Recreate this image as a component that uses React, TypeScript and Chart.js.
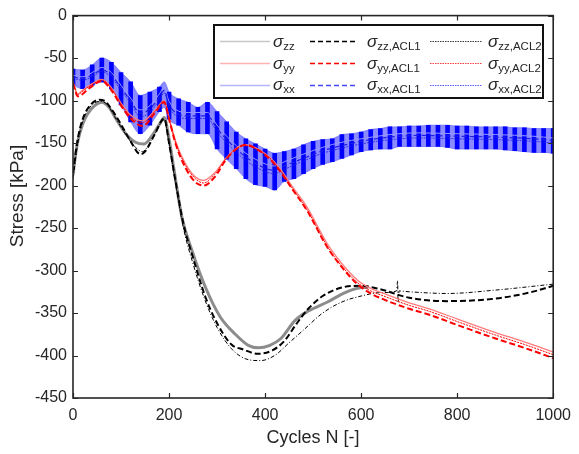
import React, { useEffect, useRef } from "react";
import { Chart, registerables } from "chart.js";

Chart.register(...registerables);

const FONT = "'Liberation Sans', Arial, Helvetica, sans-serif";
const INK = "#262626";

const xTickValues = [0, 200, 400, 600, 800, 1000];
const yTickValues = [0, -50, -100, -150, -200, -250, -300, -350, -400, -450];
const xTitle = "Cycles N [-]";
const yTitle = "Stress [kPa]";

// sigma_zz (gray, solid)
const zzX = [0, 5, 10, 20, 30, 45, 60, 75, 90, 110, 130, 148, 165, 180, 190, 200, 210, 227, 248, 276, 307, 338, 365, 386, 410, 433, 462, 489, 530, 570, 605, 615];
const zzY = [-188, -165, -148, -128, -116, -106, -102, -108, -122, -139, -149, -151, -141, -128, -120, -145, -180, -238, -277, -320, -355, -375, -388, -391, -388, -380, -359, -348, -337, -325, -320, -320];
// sigma_zz ACL1 (black dashed)
const zz1X = [0, 10, 20, 35, 55, 65, 80, 100, 120, 140, 150, 170, 190, 200, 212, 230, 250, 275, 300, 330, 355, 385, 415, 440, 465, 490, 520, 560, 600, 640, 700, 780, 880, 950, 1000];
const zz1Y = [-185, -145, -122, -106, -99, -100, -110, -128, -148, -163, -160, -140, -121, -150, -190, -245, -285, -330, -362, -387, -393, -398, -394, -383, -363, -345, -330, -320, -318, -322, -332, -336, -333, -326, -318];
// sigma_zz ACL2 (black dash-dot)
const zz2X = [0, 10, 20, 35, 55, 70, 90, 110, 130, 145, 165, 190, 200, 212, 230, 250, 275, 300, 330, 360, 390, 420, 450, 480, 520, 560, 600, 640, 674, 676, 677, 679, 700, 780, 880, 1000];
const zz2Y = [-192, -150, -125, -108, -101, -104, -122, -140, -155, -160, -145, -123, -150, -192, -250, -292, -335, -367, -392, -404, -406, -400, -385, -370, -350, -337, -330, -326, -324, -312, -338, -324, -325, -327, -323, -316];

// sigma_yy (light red, solid)
const yyX = [0, 10, 20, 35, 60, 80, 100, 120, 145, 170, 190, 200, 215, 235, 255, 272, 295, 318, 340, 358, 385, 412, 435, 454, 488, 530, 560, 592, 620, 647, 700, 742, 800, 880, 940, 1000];
const yyY = [-78, -92, -88, -82, -75, -85, -103, -117, -124, -112, -100, -120, -150, -175, -190, -194, -185, -168, -156, -152, -157, -168, -183, -199, -226, -269, -292, -311, -321, -327, -338, -345, -357, -373, -384, -396];
// sigma_yy ACL1 (red dashed)
const yy1X = [0, 10, 35, 60, 80, 100, 120, 145, 170, 190, 200, 215, 235, 255, 272, 295, 318, 340, 360, 385, 412, 435, 454, 488, 530, 560, 592, 620, 647, 700, 742, 800, 880, 940, 1000];
const yy1Y = [-80, -95, -85, -77, -88, -106, -121, -130, -115, -102, -122, -153, -180, -196, -200, -190, -170, -157, -152, -158, -170, -186, -202, -230, -273, -296, -316, -327, -334, -345, -352, -364, -380, -391, -403];
// sigma_yy ACL2 (red dotted)
const yy2X = [0, 10, 20, 35, 60, 80, 100, 120, 145, 170, 190, 200, 215, 235, 255, 272, 295, 318, 340, 358, 385, 412, 435, 454, 488, 530, 560, 592, 620, 647, 700, 742, 800, 880, 940, 1000];
const yy2Y = [-79, -93, -89, -83, -76, -86, -104, -119, -126, -113, -101, -122, -152, -177, -192, -197, -187, -169, -157, -153, -158, -169, -185, -201, -229, -272, -295, -314, -324, -330, -341, -348, -360, -376, -387, -399];

// sigma_xx mean lines
const xxX = [0, 20, 40, 60, 80, 100, 120, 140, 160, 180, 190, 200, 240, 280, 300, 340, 380, 420, 440, 480, 520, 560, 600, 660, 720, 800, 880, 960, 1000];
const xxY = [-70, -72, -67, -61, -67, -82, -97, -111, -106, -92, -84, -101, -114, -114, -129, -153, -169, -177, -172, -163, -155, -149, -145, -140, -138, -139, -140, -142, -144];
const xx1Y = [-72, -74, -70, -64, -70, -85, -100, -115, -110, -96, -88, -105, -118, -118, -133, -157, -174, -182, -177, -168, -159, -153, -148, -143, -141, -142, -143, -145, -147];
const xx2Y = [-74, -76, -72, -66, -73, -88, -103, -119, -114, -99, -91, -108, -121, -121, -137, -161, -178, -186, -181, -171, -162, -156, -151, -146, -144, -145, -146, -148, -150];

// sigma_xx oscillation envelope (upper / lower)
const bandX = [0, 20, 40, 60, 80, 100, 120, 140, 160, 180, 190, 200, 220, 240, 260, 280, 300, 320, 340, 360, 380, 400, 420, 440, 460, 480, 500, 520, 540, 560, 580, 600, 620, 640, 660, 680, 700, 720, 740, 760, 780, 800, 820, 840, 860, 880, 900, 920, 940, 960, 980, 1000];
const bandHi = [-63, -64, -58, -50, -55, -67, -78, -94, -90, -84, -78, -90, -98, -102, -108, -102, -113, -125, -137, -145, -151, -157, -162, -160, -157, -152, -148, -146, -145, -140, -139, -137, -134, -133, -131, -131, -130, -130, -129, -129, -129, -130, -130, -131, -131, -131, -131, -132, -132, -133, -133, -133];
const bandLo = [-82, -86, -82, -78, -86, -105, -125, -139, -129, -113, -108, -122, -129, -137, -139, -139, -157, -169, -180, -192, -199, -201, -205, -195, -192, -186, -180, -175, -172, -168, -164, -160, -158, -157, -157, -154, -154, -154, -154, -154, -155, -157, -157, -157, -157, -157, -158, -159, -160, -161, -161, -162];

const legendSubs = [
  ["zz", "zz,ACL1", "zz,ACL2"],
  ["yy", "yy,ACL1", "yy,ACL2"],
  ["xx", "xx,ACL1", "xx,ACL2"],
];

const pts = (xs: number[], ys: number[]) => xs.map((x, i) => ({ x, y: ys[i] }));

const C_GRAY = "rgb(140,140,140)";
const C_PINK = "rgb(255,125,125)";
const C_LBLUE = "rgb(150,150,255)";
const C_BLACK = "#000000";
const C_RED = "rgb(255,0,0)";
const C_BLUE = "rgb(30,30,230)";

const DASH = [6, 3];
const DOTDASH = [4, 2, 1, 2];
const DOT = [2, 1];

const legendStyles = [
  [
    { color: "rgb(200,200,200)", dash: [] as number[], w: 1.5 },
    { color: C_BLACK, dash: [5, 3], w: 1.6 },
    { color: "rgb(60,60,60)", dash: [1.5, 1], w: 1.2 },
  ],
  [
    { color: "rgb(255,180,180)", dash: [] as number[], w: 1.5 },
    { color: C_RED, dash: [5, 3], w: 1.6 },
    { color: "rgb(255,60,60)", dash: [1.5, 1], w: 1.2 },
  ],
  [
    { color: "rgb(180,180,255)", dash: [] as number[], w: 1.5 },
    { color: "rgb(70,70,255)", dash: [5, 3], w: 1.6 },
    { color: "rgb(90,90,255)", dash: [1.5, 1], w: 1.2 },
  ],
];

const framePlugin = {
  id: "frameAndLegend",
  afterDraw(chart: any) {
    const { ctx, chartArea: a, scales } = chart;
    ctx.save();
    ctx.strokeStyle = INK;
    ctx.lineWidth = 1.6;
    ctx.setLineDash([]);
    ctx.strokeRect(a.left, a.top, a.right - a.left, a.bottom - a.top);
    ctx.lineWidth = 1.2;
    const tl = 5;
    ctx.beginPath();
    xTickValues.forEach((v) => {
      const px = Math.round(scales.x.getPixelForValue(v)) + 0.5;
      ctx.moveTo(px, a.bottom);
      ctx.lineTo(px, a.bottom - tl);
      ctx.moveTo(px, a.top);
      ctx.lineTo(px, a.top + tl);
    });
    yTickValues.forEach((v) => {
      const py = Math.round(scales.y.getPixelForValue(v)) + 0.5;
      ctx.moveTo(a.left, py);
      ctx.lineTo(a.left + tl, py);
      ctx.moveTo(a.right, py);
      ctx.lineTo(a.right - tl, py);
    });
    ctx.stroke();

    ctx.fillStyle = INK;
    ctx.font = `18px ${FONT}`;
    ctx.textAlign = "center";
    ctx.textBaseline = "middle";
    ctx.fillText(xTitle, (a.left + a.right) / 2, 438);
    ctx.save();
    ctx.translate(18, 196);
    ctx.rotate(-Math.PI / 2);
    ctx.font = `19px ${FONT}`;
    ctx.fillText(yTitle, 0, 0);
    ctx.restore();

    const bx = 214, by = 25, bw = 329, bh = 73;
    ctx.fillStyle = "#ffffff";
    ctx.fillRect(bx, by, bw, bh);
    ctx.strokeStyle = "#111";
    ctx.lineWidth = 2;
    ctx.strokeRect(bx, by, bw, bh);
    const lineX = [[220, 270], [310, 358], [430, 482]];
    const textX = [273, 367, 488];
    const rowLine = [41, 63, 85];
    const rowBase = [47, 68.5, 90];
    for (let r = 0; r < 3; r++) {
      for (let c = 0; c < 3; c++) {
        const st = legendStyles[r][c];
        ctx.strokeStyle = st.color;
        ctx.lineWidth = st.w;
        ctx.setLineDash(st.dash);
        ctx.beginPath();
        ctx.moveTo(lineX[c][0], rowLine[r] + 0.5);
        ctx.lineTo(lineX[c][1], rowLine[r] + 0.5);
        ctx.stroke();
        ctx.setLineDash([]);
        ctx.fillStyle = INK;
        ctx.textAlign = "left";
        ctx.textBaseline = "alphabetic";
        ctx.font = `italic 17px ${FONT}`;
        ctx.fillText("σ", textX[c], rowBase[r]);
        const w = ctx.measureText("σ").width;
        ctx.font = `11.5px ${FONT}`;
        ctx.fillText(legendSubs[r][c], textX[c] + w, rowBase[r] + 3);
      }
    }
    ctx.restore();
  },
};

export default function App() {
  const ref = useRef<HTMLCanvasElement | null>(null);

  useEffect(() => {
    document.body.style.margin = "0";
    const canvas = ref.current;
    if (!canvas) return;

    const spikeData = bandX
      .map((x, i) => ({ x, y: [bandLo[i], bandHi[i]] }))
      .filter((d) => d.x !== 190);

    const lineDs = (label: string, data: any[], color: string, width: number, dash: number[], order: number) => ({
      type: "line" as const,
      label,
      data,
      borderColor: color,
      backgroundColor: color,
      borderWidth: width,
      borderDash: dash,
      pointRadius: 0,
      fill: false,
      order,
      cubicInterpolationMode: "monotone" as const,
    });

    const chart = new Chart(canvas, {
      type: "line",
      data: {
        datasets: [
          {
            type: "line",
            label: "band upper",
            data: pts(bandX, bandHi),
            borderColor: "rgba(110,110,255,0.8)",
            borderWidth: 1,
            backgroundColor: "rgba(110,110,255,0.8)",
            pointRadius: 0,
            fill: "+1",
            order: 30,
            cubicInterpolationMode: "monotone",
          } as any,
          {
            type: "line",
            label: "band lower",
            data: pts(bandX, bandLo),
            borderColor: "rgba(110,110,255,0.8)",
            borderWidth: 1,
            pointRadius: 0,
            fill: false,
            order: 29,
            cubicInterpolationMode: "monotone",
          } as any,
          {
            type: "bar",
            label: "oscillation",
            data: spikeData,
            backgroundColor: "rgb(0,0,255)",
            borderWidth: 0,
            barThickness: 4,
            order: 25,
          } as any,
          lineDs("σxx", pts(xxX, xxY), C_LBLUE, 1, [], 20),
          lineDs("σxx,ACL1", pts(xxX, xx1Y), C_BLUE, 1.2, [5, 3], 19),
          lineDs("σxx,ACL2", pts(xxX, xx2Y), C_BLUE, 0.8, DOT, 18),
          lineDs("σzz", pts(zzX, zzY), C_GRAY, 3, [], 12),
          lineDs("σzz,ACL1", pts(zz1X, zz1Y), C_BLACK, 2, DASH, 11),
          lineDs("σzz,ACL2", pts(zz2X, zz2Y), C_BLACK, 1, DOTDASH, 10),
          lineDs("σyy", pts(yyX, yyY), C_PINK, 1.3, [], 5),
          lineDs("σyy,ACL1", pts(yy1X, yy1Y), C_RED, 2, DASH, 4),
          lineDs("σyy,ACL2", pts(yy2X, yy2Y), C_RED, 1, DOT, 3),
        ] as any,
      },
      options: {
        animation: false,
        responsive: false,
        maintainAspectRatio: false,
        layout: { padding: { left: 0, right: 21, top: 13, bottom: 0 } },
        plugins: { legend: { display: false }, tooltip: { enabled: false } },
        scales: {
          x: {
            type: "linear",
            offset: false,
            min: 0,
            max: 1000,
            afterFit: (s: any) => {
              s.height = 56;
            },
            afterBuildTicks: (s: any) => {
              s.ticks = xTickValues.map((v) => ({ value: v }));
            },
            grid: { display: false, drawTicks: false, offset: false },
            border: { display: false },
            ticks: {
              font: { family: FONT, size: 16 },
              color: INK,
              padding: 8,
              maxRotation: 0,
              callback: (v: any) => String(v),
            },
          },
          y: {
            type: "linear",
            min: -450,
            max: 0,
            afterFit: (s: any) => {
              s.width = 73;
            },
            afterBuildTicks: (s: any) => {
              s.ticks = yTickValues.map((v) => ({ value: v }));
            },
            grid: { display: false, drawTicks: false },
            border: { display: false },
            ticks: { font: { family: FONT, size: 16 }, color: INK, padding: 6, callback: (v: any) => String(v) },
          },
        },
      } as any,
      plugins: [framePlugin],
    });

    return () => chart.destroy();
  }, []);

  return <canvas ref={ref} width={579} height={454} style={{ display: "block" }} />;
}
